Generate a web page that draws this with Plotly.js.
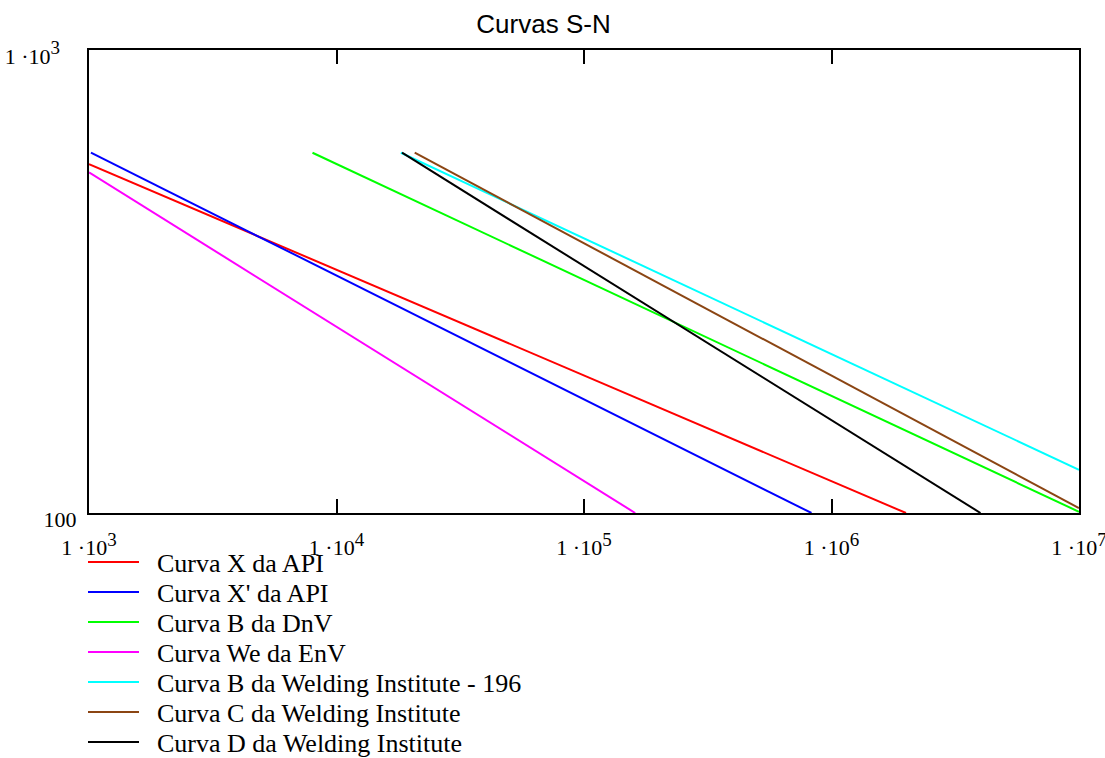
<!DOCTYPE html>
<html>
<head>
<meta charset="utf-8">
<script src="https://cdn.plot.ly/plotly-3.0.1.min.js"></script>
<style>html,body{margin:0;padding:0;background:#fff;}#chart{width:1105px;height:758px;}</style>
</head>
<body>
<div id="chart"></div>
<script>
// Series names
const seriesNames = [
  "Curva X da API",
  "Curva X' da API",
  "Curva B da DnV",
  "Curva We da EnV",
  "Curva B da Welding Institute - 196",
  "Curva C da Welding Institute",
  "Curva D da Welding Institute"
];
// Endpoints (N = cycles, S = stress range)
const nX  = [1000, 2.0e6];   const sX  = [567, 100];
const nXp = [1018, 8.3e5];   const sXp = [600, 100];
const nDB = [8.0e3, 1e7];    const sDB = [600, 100.6];
const nWe = [1000, 1.61e5];  const sWe = [544, 100];
const nWB = [1.82e4, 1e7];   const sWB = [600, 124];
const nWC = [2.07e4, 1e7];   const sWC = [600, 102.5];
const nWD = [1.84e4, 4.0e6]; const sWD = [600, 100];

const sup = e => "<sup><span style='font-size:19px'>" + e + "</span></sup>";
const xTickVals = [1e3, 1e4, 1e5, 1e6, 1e7];
const xTickText = ["1 ·10" + sup(3), "1 ·10" + sup(4), "1 ·10" + sup(5), "1 ·10" + sup(6), "1 ·10" + sup(7)];
const yTickVals = [100, 1000];
const yTickText = ["100", "1 ·10" + sup(3) + "\u00a0\u00a0\u00a0"];

const colors = ["#ff0000", "#0000ff", "#00ff00", "#ff00ff", "#00ffff", "#8b4513", "#000000"];
const xs = [nX, nXp, nDB, nWe, nWB, nWC, nWD];
const ys = [sX, sXp, sDB, sWe, sWB, sWC, sWD];
const legendRowsPx = [562, 592, 622, 652, 682, 712, 742];

const legendIds = seriesNames.map((_, i) => i === 0 ? "legend" : "legend" + (i + 1));
const traces = xs.map((x, i) => ({
  x: x, y: ys[i], type: "scatter", mode: "lines", name: "\u00a0\u00a0" + seriesNames[i],
  legend: legendIds[i],
  line: {color: colors[i], width: 2}
}));

const serif = "Liberation Serif, Times New Roman, serif";
const axisCommon = {
  showgrid: false, zeroline: false, showline: true, linecolor: "#000", linewidth: 2,
  mirror: "ticks", ticks: "inside", ticklen: 14, tickwidth: 2, tickcolor: "#000",
  ticklabeloverflow: "allow",
  tickfont: {family: serif, size: 22, color: "#000"}
};

const layout = {
  width: 1105, height: 758,
  margin: {l: 89, r: 26, t: 50, b: 245, autoexpand: false},
  paper_bgcolor: "#fff", plot_bgcolor: "#fff",
  title: {text: "Curvas S-N", font: {family: "Liberation Sans, Arial, sans-serif", size: 26, color: "#000"},
          x: 543.5/1105, xanchor: "center", xref: "container", y: 1 - 24/758, yanchor: "middle", yref: "container"},
  xaxis: Object.assign({}, axisCommon, {type: "log", range: [3, 7], tickvals: xTickVals, ticktext: xTickText, ticklabelstandoff: 14}),
  yaxis: Object.assign({}, axisCommon, {type: "log", range: [2, 3], tickvals: yTickVals, ticktext: yTickText, ticklabelstandoff: 6, ticklabelshift: 6}),
  showlegend: true
};
legendIds.forEach((id, i) => {
  layout[id] = {
    orientation: "v", xref: "container", yref: "container", x: 83/1105, xanchor: "left",
    y: 1 - legendRowsPx[i]/758, yanchor: "middle", font: {family: serif, size: 26, color: "#000"},
    itemwidth: 51, bgcolor: "rgba(0,0,0,0)", borderwidth: 0
  };
});

Plotly.newPlot("chart", traces, layout, {staticPlot: true, displayModeBar: false});
</script>
</body>
</html>
